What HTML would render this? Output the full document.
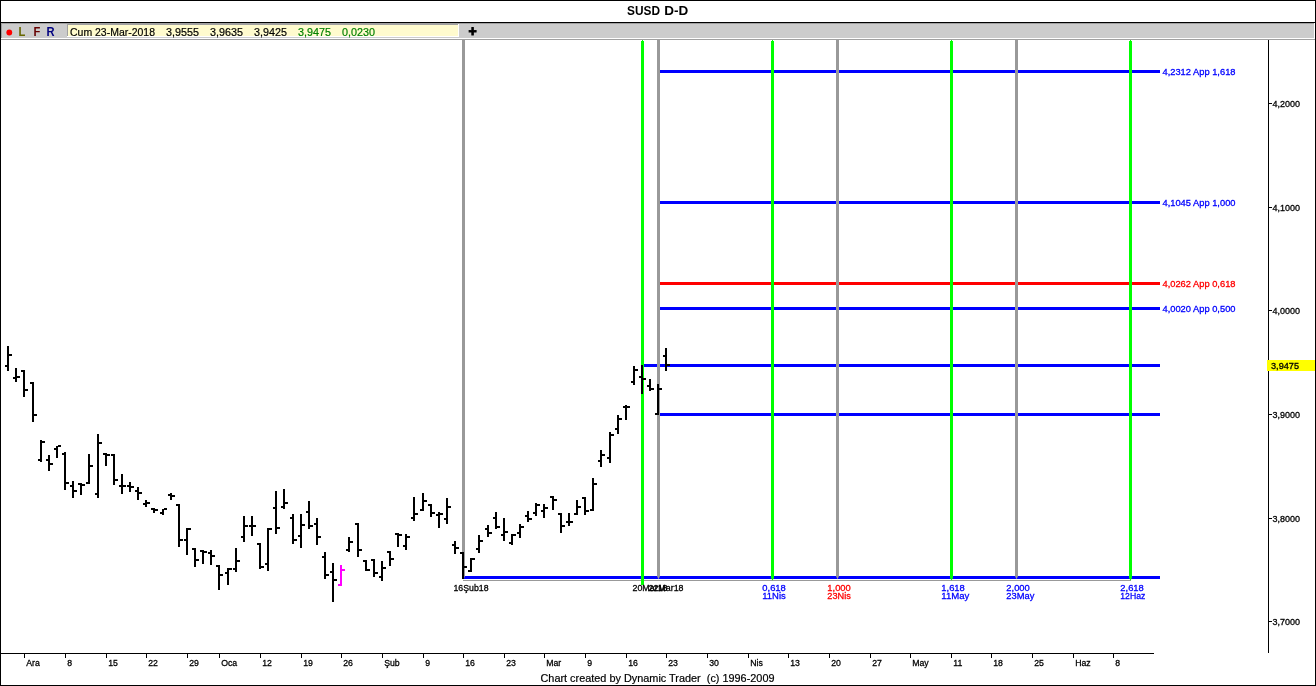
<!DOCTYPE html>
<html><head><meta charset="utf-8"><title>SUSD D-D</title>
<style>
html,body{margin:0;padding:0;background:#fff;overflow:hidden}
svg{display:block}
text{font-family:"Liberation Sans",sans-serif}
.s{font-size:9.7px;stroke-width:0.3px}
.m{font-size:11.5px;stroke-width:0.2px}
.t{font-size:13px;font-weight:bold}
.b{font-size:13px;font-weight:bold}
</style></head><body>
<svg width="1316" height="686" viewBox="0 0 1316 686" shape-rendering="crispEdges">
<g><rect x="0" y="0" width="1316" height="686" fill="#fff"/><rect x="0" y="0" width="1316" height="1" fill="#000"/><rect x="0" y="0" width="1" height="686" fill="#000"/><rect x="1315" y="0" width="1" height="686" fill="#000"/><rect x="0" y="685" width="1316" height="1" fill="#000"/><rect x="1" y="22" width="1314" height="1" fill="#000"/><rect x="1" y="23" width="1314" height="15" fill="#cccccc"/><rect x="1" y="23" width="1313" height="1" fill="#a0a0a0"/><rect x="1" y="23" width="1" height="15" fill="#a0a0a0"/><rect x="1" y="38" width="1314" height="1" fill="#fff"/><rect x="1314" y="23" width="1" height="16" fill="#fff"/><rect x="1" y="39" width="1314" height="1" fill="#a0a0a0"/><rect x="67" y="24" width="392" height="13" fill="#fff"/><rect x="67" y="24" width="391" height="12" fill="#a0a0a0"/><rect x="68" y="25" width="390" height="11" fill="#fffbce"/><circle cx="9.3" cy="32.5" r="2.9" fill="#ff0000" shape-rendering="auto"/></g>
<g><rect x="660" y="70" width="500" height="3" fill="#0000ff"/><rect x="660" y="201" width="500" height="3" fill="#0000ff"/><rect x="660" y="282" width="500" height="3" fill="#ff0000"/><rect x="660" y="307" width="500" height="3" fill="#0000ff"/><rect x="642" y="364" width="518" height="3" fill="#0000ff"/><rect x="660" y="413" width="500" height="3" fill="#0000ff"/><rect x="463" y="576" width="697" height="3" fill="#0000ff"/><rect x="463" y="580" width="668" height="1" fill="#999999"/></g>
<g><rect x="462" y="40" width="3" height="536" fill="#999999"/><polygon points="462,576 465,576 463.5,579.6" fill="#999999" shape-rendering="auto"/><rect x="641" y="41" width="3" height="544" fill="#00ff00"/><rect x="642" y="40" width="1" height="1" fill="#00ff00"/><rect x="657" y="40" width="3" height="536" fill="#999999"/><polygon points="657,576 660,576 658.5,579.6" fill="#999999" shape-rendering="auto"/><rect x="771" y="41" width="3" height="537" fill="#00ff00"/><polygon points="771,578 774,578 772.5,580.6" fill="#00ff00" shape-rendering="auto"/><rect x="772" y="40" width="1" height="1" fill="#00ff00"/><rect x="836" y="40" width="3" height="536" fill="#999999"/><polygon points="836,576 839,576 837.5,579.6" fill="#999999" shape-rendering="auto"/><rect x="950" y="41" width="3" height="537" fill="#00ff00"/><polygon points="950,578 953,578 951.5,580.6" fill="#00ff00" shape-rendering="auto"/><rect x="951" y="40" width="1" height="1" fill="#00ff00"/><rect x="1015" y="40" width="3" height="536" fill="#999999"/><polygon points="1015,576 1018,576 1016.5,579.6" fill="#999999" shape-rendering="auto"/><rect x="1129" y="41" width="3" height="537" fill="#00ff00"/><polygon points="1129,578 1132,578 1130.5,580.6" fill="#00ff00" shape-rendering="auto"/><rect x="1130" y="40" width="1" height="1" fill="#00ff00"/></g>
<g><rect x="7" y="346" width="2" height="25" fill="#000"/><rect x="5" y="365" width="2" height="2" fill="#000"/><rect x="9" y="354" width="3" height="2" fill="#000"/><rect x="15" y="368" width="2" height="14" fill="#000"/><rect x="13" y="377" width="2" height="2" fill="#000"/><rect x="17" y="376" width="3" height="2" fill="#000"/><rect x="23" y="370" width="2" height="27" fill="#000"/><rect x="21" y="370" width="2" height="2" fill="#000"/><rect x="25" y="389" width="3" height="2" fill="#000"/><rect x="32" y="382" width="2" height="40" fill="#000"/><rect x="30" y="382" width="2" height="2" fill="#000"/><rect x="34" y="414" width="3" height="2" fill="#000"/><rect x="40" y="440" width="2" height="22" fill="#000"/><rect x="38" y="459" width="2" height="2" fill="#000"/><rect x="42" y="441" width="3" height="2" fill="#000"/><rect x="48" y="455" width="2" height="16" fill="#000"/><rect x="46" y="459" width="2" height="2" fill="#000"/><rect x="50" y="463" width="3" height="2" fill="#000"/><rect x="56" y="446" width="2" height="12" fill="#000"/><rect x="54" y="448" width="2" height="2" fill="#000"/><rect x="58" y="445" width="3" height="2" fill="#000"/><rect x="64" y="452" width="2" height="38" fill="#000"/><rect x="62" y="453" width="2" height="2" fill="#000"/><rect x="66" y="482" width="3" height="2" fill="#000"/><rect x="72" y="481" width="2" height="17" fill="#000"/><rect x="70" y="485" width="2" height="2" fill="#000"/><rect x="74" y="490" width="3" height="2" fill="#000"/><rect x="80" y="483" width="2" height="12" fill="#000"/><rect x="78" y="483" width="2" height="2" fill="#000"/><rect x="82" y="484" width="3" height="2" fill="#000"/><rect x="88" y="454" width="2" height="30" fill="#000"/><rect x="86" y="482" width="2" height="2" fill="#000"/><rect x="90" y="465" width="3" height="2" fill="#000"/><rect x="97" y="434" width="2" height="64" fill="#000"/><rect x="95" y="493" width="2" height="2" fill="#000"/><rect x="99" y="442" width="3" height="2" fill="#000"/><rect x="105" y="453" width="2" height="13" fill="#000"/><rect x="103" y="453" width="2" height="2" fill="#000"/><rect x="107" y="454" width="3" height="2" fill="#000"/><rect x="113" y="454" width="2" height="31" fill="#000"/><rect x="111" y="454" width="2" height="2" fill="#000"/><rect x="115" y="479" width="3" height="2" fill="#000"/><rect x="121" y="474" width="2" height="20" fill="#000"/><rect x="119" y="485" width="2" height="2" fill="#000"/><rect x="123" y="485" width="3" height="2" fill="#000"/><rect x="129" y="482" width="2" height="10" fill="#000"/><rect x="127" y="485" width="2" height="2" fill="#000"/><rect x="131" y="486" width="3" height="2" fill="#000"/><rect x="137" y="487" width="2" height="13" fill="#000"/><rect x="135" y="490" width="2" height="2" fill="#000"/><rect x="139" y="492" width="3" height="2" fill="#000"/><rect x="145" y="500" width="2" height="7" fill="#000"/><rect x="143" y="503" width="2" height="2" fill="#000"/><rect x="147" y="502" width="3" height="2" fill="#000"/><rect x="153" y="508" width="2" height="5" fill="#000"/><rect x="151" y="508" width="2" height="2" fill="#000"/><rect x="155" y="509" width="3" height="2" fill="#000"/><rect x="162" y="509" width="2" height="6" fill="#000"/><rect x="160" y="512" width="2" height="2" fill="#000"/><rect x="164" y="508" width="3" height="2" fill="#000"/><rect x="170" y="493" width="2" height="7" fill="#000"/><rect x="168" y="494" width="2" height="2" fill="#000"/><rect x="172" y="495" width="3" height="2" fill="#000"/><rect x="178" y="504" width="2" height="43" fill="#000"/><rect x="176" y="504" width="2" height="2" fill="#000"/><rect x="180" y="539" width="3" height="2" fill="#000"/><rect x="186" y="528" width="2" height="27" fill="#000"/><rect x="184" y="539" width="2" height="2" fill="#000"/><rect x="188" y="528" width="3" height="2" fill="#000"/><rect x="194" y="548" width="2" height="19" fill="#000"/><rect x="192" y="548" width="2" height="2" fill="#000"/><rect x="196" y="559" width="3" height="2" fill="#000"/><rect x="202" y="550" width="2" height="14" fill="#000"/><rect x="200" y="550" width="2" height="2" fill="#000"/><rect x="204" y="551" width="3" height="2" fill="#000"/><rect x="210" y="550" width="2" height="15" fill="#000"/><rect x="208" y="552" width="2" height="2" fill="#000"/><rect x="212" y="555" width="3" height="2" fill="#000"/><rect x="218" y="565" width="2" height="25" fill="#000"/><rect x="216" y="565" width="2" height="2" fill="#000"/><rect x="220" y="574" width="3" height="2" fill="#000"/><rect x="227" y="568" width="2" height="17" fill="#000"/><rect x="225" y="572" width="2" height="2" fill="#000"/><rect x="229" y="568" width="3" height="2" fill="#000"/><rect x="235" y="548" width="2" height="24" fill="#000"/><rect x="233" y="568" width="2" height="2" fill="#000"/><rect x="237" y="560" width="3" height="2" fill="#000"/><rect x="243" y="516" width="2" height="26" fill="#000"/><rect x="241" y="536" width="2" height="2" fill="#000"/><rect x="245" y="525" width="3" height="2" fill="#000"/><rect x="251" y="516" width="2" height="20" fill="#000"/><rect x="249" y="525" width="2" height="2" fill="#000"/><rect x="253" y="525" width="3" height="2" fill="#000"/><rect x="259" y="543" width="2" height="26" fill="#000"/><rect x="257" y="543" width="2" height="2" fill="#000"/><rect x="261" y="566" width="3" height="2" fill="#000"/><rect x="267" y="528" width="2" height="43" fill="#000"/><rect x="265" y="563" width="2" height="2" fill="#000"/><rect x="269" y="528" width="3" height="2" fill="#000"/><rect x="275" y="491" width="2" height="43" fill="#000"/><rect x="273" y="507" width="2" height="2" fill="#000"/><rect x="277" y="527" width="3" height="2" fill="#000"/><rect x="283" y="489" width="2" height="20" fill="#000"/><rect x="281" y="506" width="2" height="2" fill="#000"/><rect x="285" y="502" width="3" height="2" fill="#000"/><rect x="292" y="514" width="2" height="30" fill="#000"/><rect x="290" y="517" width="2" height="2" fill="#000"/><rect x="294" y="539" width="3" height="2" fill="#000"/><rect x="300" y="514" width="2" height="34" fill="#000"/><rect x="298" y="535" width="2" height="2" fill="#000"/><rect x="302" y="524" width="3" height="2" fill="#000"/><rect x="308" y="501" width="2" height="28" fill="#000"/><rect x="306" y="511" width="2" height="2" fill="#000"/><rect x="310" y="525" width="3" height="2" fill="#000"/><rect x="316" y="518" width="2" height="27" fill="#000"/><rect x="314" y="523" width="2" height="2" fill="#000"/><rect x="318" y="536" width="3" height="2" fill="#000"/><rect x="324" y="552" width="2" height="27" fill="#000"/><rect x="322" y="556" width="2" height="2" fill="#000"/><rect x="326" y="574" width="3" height="2" fill="#000"/><rect x="332" y="563" width="2" height="39" fill="#000"/><rect x="330" y="571" width="2" height="2" fill="#000"/><rect x="334" y="579" width="3" height="2" fill="#000"/><rect x="340" y="565" width="2" height="21" fill="#ff00ff"/><rect x="338" y="584" width="2" height="2" fill="#ff00ff"/><rect x="342" y="569" width="3" height="2" fill="#ff00ff"/><rect x="348" y="537" width="2" height="15" fill="#000"/><rect x="346" y="549" width="2" height="2" fill="#000"/><rect x="350" y="541" width="3" height="2" fill="#000"/><rect x="357" y="523" width="2" height="34" fill="#000"/><rect x="355" y="523" width="2" height="2" fill="#000"/><rect x="359" y="549" width="3" height="2" fill="#000"/><rect x="365" y="560" width="2" height="11" fill="#000"/><rect x="363" y="560" width="2" height="2" fill="#000"/><rect x="367" y="569" width="3" height="2" fill="#000"/><rect x="373" y="559" width="2" height="18" fill="#000"/><rect x="371" y="559" width="2" height="2" fill="#000"/><rect x="375" y="572" width="3" height="2" fill="#000"/><rect x="381" y="561" width="2" height="20" fill="#000"/><rect x="379" y="576" width="2" height="2" fill="#000"/><rect x="383" y="567" width="3" height="2" fill="#000"/><rect x="389" y="551" width="2" height="15" fill="#000"/><rect x="387" y="551" width="2" height="2" fill="#000"/><rect x="391" y="558" width="3" height="2" fill="#000"/><rect x="397" y="533" width="2" height="14" fill="#000"/><rect x="395" y="533" width="2" height="2" fill="#000"/><rect x="399" y="534" width="3" height="2" fill="#000"/><rect x="405" y="534" width="2" height="16" fill="#000"/><rect x="403" y="545" width="2" height="2" fill="#000"/><rect x="407" y="536" width="3" height="2" fill="#000"/><rect x="413" y="497" width="2" height="24" fill="#000"/><rect x="411" y="517" width="2" height="2" fill="#000"/><rect x="415" y="513" width="3" height="2" fill="#000"/><rect x="422" y="493" width="2" height="18" fill="#000"/><rect x="420" y="509" width="2" height="2" fill="#000"/><rect x="424" y="500" width="3" height="2" fill="#000"/><rect x="430" y="504" width="2" height="13" fill="#000"/><rect x="428" y="504" width="2" height="2" fill="#000"/><rect x="432" y="512" width="3" height="2" fill="#000"/><rect x="438" y="512" width="2" height="16" fill="#000"/><rect x="436" y="514" width="2" height="2" fill="#000"/><rect x="440" y="513" width="3" height="2" fill="#000"/><rect x="446" y="498" width="2" height="26" fill="#000"/><rect x="444" y="518" width="2" height="2" fill="#000"/><rect x="448" y="506" width="3" height="2" fill="#000"/><rect x="454" y="541" width="2" height="13" fill="#000"/><rect x="452" y="544" width="2" height="2" fill="#000"/><rect x="456" y="547" width="3" height="2" fill="#000"/><rect x="462" y="552" width="2" height="27" fill="#000"/><rect x="460" y="552" width="2" height="2" fill="#000"/><rect x="464" y="566" width="3" height="2" fill="#000"/><rect x="470" y="558" width="2" height="14" fill="#000"/><rect x="468" y="570" width="2" height="2" fill="#000"/><rect x="472" y="558" width="3" height="2" fill="#000"/><rect x="478" y="535" width="2" height="18" fill="#000"/><rect x="476" y="548" width="2" height="2" fill="#000"/><rect x="480" y="540" width="3" height="2" fill="#000"/><rect x="487" y="525" width="2" height="12" fill="#000"/><rect x="485" y="528" width="2" height="2" fill="#000"/><rect x="489" y="532" width="3" height="2" fill="#000"/><rect x="495" y="512" width="2" height="17" fill="#000"/><rect x="493" y="517" width="2" height="2" fill="#000"/><rect x="497" y="526" width="3" height="2" fill="#000"/><rect x="503" y="518" width="2" height="23" fill="#000"/><rect x="501" y="534" width="2" height="2" fill="#000"/><rect x="505" y="531" width="3" height="2" fill="#000"/><rect x="511" y="534" width="2" height="11" fill="#000"/><rect x="509" y="542" width="2" height="2" fill="#000"/><rect x="513" y="534" width="3" height="2" fill="#000"/><rect x="519" y="524" width="2" height="14" fill="#000"/><rect x="517" y="532" width="2" height="2" fill="#000"/><rect x="521" y="526" width="3" height="2" fill="#000"/><rect x="527" y="511" width="2" height="11" fill="#000"/><rect x="525" y="515" width="2" height="2" fill="#000"/><rect x="529" y="518" width="3" height="2" fill="#000"/><rect x="535" y="503" width="2" height="13" fill="#000"/><rect x="533" y="512" width="2" height="2" fill="#000"/><rect x="537" y="504" width="3" height="2" fill="#000"/><rect x="543" y="504" width="2" height="14" fill="#000"/><rect x="541" y="510" width="2" height="2" fill="#000"/><rect x="545" y="507" width="3" height="2" fill="#000"/><rect x="552" y="496" width="2" height="14" fill="#000"/><rect x="550" y="496" width="2" height="2" fill="#000"/><rect x="554" y="499" width="3" height="2" fill="#000"/><rect x="560" y="513" width="2" height="20" fill="#000"/><rect x="558" y="513" width="2" height="2" fill="#000"/><rect x="562" y="525" width="3" height="2" fill="#000"/><rect x="568" y="513" width="2" height="13" fill="#000"/><rect x="566" y="521" width="2" height="2" fill="#000"/><rect x="570" y="521" width="3" height="2" fill="#000"/><rect x="576" y="500" width="2" height="15" fill="#000"/><rect x="574" y="513" width="2" height="2" fill="#000"/><rect x="578" y="506" width="3" height="2" fill="#000"/><rect x="584" y="497" width="2" height="18" fill="#000"/><rect x="582" y="497" width="2" height="2" fill="#000"/><rect x="586" y="510" width="3" height="2" fill="#000"/><rect x="592" y="478" width="2" height="33" fill="#000"/><rect x="590" y="509" width="2" height="2" fill="#000"/><rect x="594" y="483" width="3" height="2" fill="#000"/><rect x="600" y="450" width="2" height="17" fill="#000"/><rect x="598" y="460" width="2" height="2" fill="#000"/><rect x="602" y="454" width="3" height="2" fill="#000"/><rect x="609" y="432" width="2" height="31" fill="#000"/><rect x="607" y="457" width="2" height="2" fill="#000"/><rect x="611" y="434" width="3" height="2" fill="#000"/><rect x="617" y="415" width="2" height="19" fill="#000"/><rect x="615" y="428" width="2" height="2" fill="#000"/><rect x="619" y="418" width="3" height="2" fill="#000"/><rect x="625" y="405" width="2" height="15" fill="#000"/><rect x="623" y="406" width="2" height="2" fill="#000"/><rect x="627" y="406" width="3" height="2" fill="#000"/><rect x="633" y="366" width="2" height="19" fill="#000"/><rect x="631" y="381" width="2" height="2" fill="#000"/><rect x="635" y="369" width="3" height="2" fill="#000"/><rect x="641" y="365" width="2" height="29" fill="#000"/><rect x="639" y="376" width="2" height="2" fill="#000"/><rect x="643" y="378" width="3" height="2" fill="#000"/><rect x="649" y="379" width="2" height="12" fill="#000"/><rect x="647" y="385" width="2" height="2" fill="#000"/><rect x="651" y="388" width="3" height="2" fill="#000"/><rect x="657" y="384" width="2" height="31" fill="#000"/><rect x="655" y="413" width="2" height="2" fill="#000"/><rect x="659" y="388" width="3" height="2" fill="#000"/><rect x="665" y="348" width="2" height="23" fill="#000"/><rect x="663" y="355" width="2" height="2" fill="#000"/><rect x="667" y="364" width="3" height="2" fill="#000"/></g>
<g><rect x="1" y="653" width="1153" height="1" fill="#000"/><rect x="24" y="653" width="1" height="5" fill="#000"/><rect x="65" y="653" width="1" height="5" fill="#000"/><rect x="106" y="653" width="1" height="5" fill="#000"/><rect x="146" y="653" width="1" height="5" fill="#000"/><rect x="187" y="653" width="1" height="5" fill="#000"/><rect x="219" y="653" width="1" height="5" fill="#000"/><rect x="260" y="653" width="1" height="5" fill="#000"/><rect x="301" y="653" width="1" height="5" fill="#000"/><rect x="341" y="653" width="1" height="5" fill="#000"/><rect x="382" y="653" width="1" height="5" fill="#000"/><rect x="423" y="653" width="1" height="5" fill="#000"/><rect x="463" y="653" width="1" height="5" fill="#000"/><rect x="504" y="653" width="1" height="5" fill="#000"/><rect x="544" y="653" width="1" height="5" fill="#000"/><rect x="585" y="653" width="1" height="5" fill="#000"/><rect x="626" y="653" width="1" height="5" fill="#000"/><rect x="666" y="653" width="1" height="5" fill="#000"/><rect x="707" y="653" width="1" height="5" fill="#000"/><rect x="748" y="653" width="1" height="5" fill="#000"/><rect x="788" y="653" width="1" height="5" fill="#000"/><rect x="829" y="653" width="1" height="5" fill="#000"/><rect x="870" y="653" width="1" height="5" fill="#000"/><rect x="910" y="653" width="1" height="5" fill="#000"/><rect x="951" y="653" width="1" height="5" fill="#000"/><rect x="991" y="653" width="1" height="5" fill="#000"/><rect x="1032" y="653" width="1" height="5" fill="#000"/><rect x="1073" y="653" width="1" height="5" fill="#000"/><rect x="1113" y="653" width="1" height="5" fill="#000"/><rect x="1268" y="40" width="1" height="613" fill="#000"/><rect x="1269" y="103" width="3" height="1" fill="#000"/><rect x="1269" y="207" width="3" height="1" fill="#000"/><rect x="1269" y="310" width="3" height="1" fill="#000"/><rect x="1269" y="414" width="3" height="1" fill="#000"/><rect x="1269" y="518" width="3" height="1" fill="#000"/><rect x="1269" y="621" width="3" height="1" fill="#000"/><rect x="1267" y="360" width="48" height="11" fill="#ffff00"/></g>
<g><text stroke="#000" transform="translate(26.2,666) scale(.9,1)" class="s">Ara</text><text stroke="#000" transform="translate(67.2,666) scale(.9,1)" class="s">8</text><text stroke="#000" transform="translate(108.2,666) scale(.9,1)" class="s">15</text><text stroke="#000" transform="translate(148.2,666) scale(.9,1)" class="s">22</text><text stroke="#000" transform="translate(189.2,666) scale(.9,1)" class="s">29</text><text stroke="#000" transform="translate(221.2,666) scale(.9,1)" class="s">Oca</text><text stroke="#000" transform="translate(262.2,666) scale(.9,1)" class="s">12</text><text stroke="#000" transform="translate(303.2,666) scale(.9,1)" class="s">19</text><text stroke="#000" transform="translate(343.2,666) scale(.9,1)" class="s">26</text><text stroke="#000" transform="translate(384.2,666) scale(.9,1)" class="s">Şub</text><text stroke="#000" transform="translate(425.2,666) scale(.9,1)" class="s">9</text><text stroke="#000" transform="translate(465.2,666) scale(.9,1)" class="s">16</text><text stroke="#000" transform="translate(506.2,666) scale(.9,1)" class="s">23</text><text stroke="#000" transform="translate(546.2,666) scale(.9,1)" class="s">Mar</text><text stroke="#000" transform="translate(587.2,666) scale(.9,1)" class="s">9</text><text stroke="#000" transform="translate(628.2,666) scale(.9,1)" class="s">16</text><text stroke="#000" transform="translate(668.2,666) scale(.9,1)" class="s">23</text><text stroke="#000" transform="translate(709.2,666) scale(.9,1)" class="s">30</text><text stroke="#000" transform="translate(750.2,666) scale(.9,1)" class="s">Nis</text><text stroke="#000" transform="translate(790.2,666) scale(.9,1)" class="s">13</text><text stroke="#000" transform="translate(831.2,666) scale(.9,1)" class="s">20</text><text stroke="#000" transform="translate(872.2,666) scale(.9,1)" class="s">27</text><text stroke="#000" transform="translate(912.2,666) scale(.9,1)" class="s">May</text><text stroke="#000" transform="translate(953.2,666) scale(.9,1)" class="s">11</text><text stroke="#000" transform="translate(993.2,666) scale(.9,1)" class="s">18</text><text stroke="#000" transform="translate(1034.2,666) scale(.9,1)" class="s">25</text><text stroke="#000" transform="translate(1075.2,666) scale(.9,1)" class="s">Haz</text><text stroke="#000" transform="translate(1115.2,666) scale(.9,1)" class="s">8</text><text stroke="#000" x="1272.5" y="107" class="s" textLength="27.5" lengthAdjust="spacingAndGlyphs">4,2000</text><text stroke="#000" x="1272.5" y="211" class="s" textLength="27.5" lengthAdjust="spacingAndGlyphs">4,1000</text><text stroke="#000" x="1272.5" y="314" class="s" textLength="27.5" lengthAdjust="spacingAndGlyphs">4,0000</text><text stroke="#000" x="1272.5" y="418" class="s" textLength="27.5" lengthAdjust="spacingAndGlyphs">3,9000</text><text stroke="#000" x="1272.5" y="522" class="s" textLength="27.5" lengthAdjust="spacingAndGlyphs">3,8000</text><text stroke="#000" x="1272.5" y="625" class="s" textLength="27.5" lengthAdjust="spacingAndGlyphs">3,7000</text><text stroke="#000" x="1271" y="369" class="s" textLength="28" lengthAdjust="spacingAndGlyphs">3,9475</text><text stroke="#0000ff" x="1162.5" y="75" class="s" fill="#0000ff" textLength="73" lengthAdjust="spacingAndGlyphs">4,2312 App 1,618</text><text stroke="#0000ff" x="1162.5" y="206" class="s" fill="#0000ff" textLength="73" lengthAdjust="spacingAndGlyphs">4,1045 App 1,000</text><text stroke="#ff0000" x="1162.5" y="287" class="s" fill="#ff0000" textLength="73" lengthAdjust="spacingAndGlyphs">4,0262 App 0,618</text><text stroke="#0000ff" x="1162.5" y="312" class="s" fill="#0000ff" textLength="73" lengthAdjust="spacingAndGlyphs">4,0020 App 0,500</text><text stroke="#000" x="453.5" y="591" class="s" textLength="35" lengthAdjust="spacingAndGlyphs">16Şub18</text><text stroke="#000" x="632.5" y="591" class="s" textLength="35" lengthAdjust="spacingAndGlyphs">20Mar18</text><text stroke="#000" x="648.5" y="591" class="s" textLength="35" lengthAdjust="spacingAndGlyphs">22Mar18</text><text stroke="#0000ff" x="762.3" y="590.8" class="s" fill="#0000ff" textLength="23.5" lengthAdjust="spacingAndGlyphs">0,618</text><text stroke="#0000ff" x="762.3" y="599" class="s" fill="#0000ff" textLength="23.5" lengthAdjust="spacingAndGlyphs">11Nis</text><text stroke="#ff0000" x="827.3" y="590.8" class="s" fill="#ff0000" textLength="23.5" lengthAdjust="spacingAndGlyphs">1,000</text><text stroke="#ff0000" x="827.3" y="599" class="s" fill="#ff0000" textLength="23.5" lengthAdjust="spacingAndGlyphs">23Nis</text><text stroke="#0000ff" x="941.3" y="590.8" class="s" fill="#0000ff" textLength="23.5" lengthAdjust="spacingAndGlyphs">1,618</text><text stroke="#0000ff" x="941.3" y="599" class="s" fill="#0000ff" textLength="28" lengthAdjust="spacingAndGlyphs">11May</text><text stroke="#0000ff" x="1006.3" y="590.8" class="s" fill="#0000ff" textLength="23.5" lengthAdjust="spacingAndGlyphs">2,000</text><text stroke="#0000ff" x="1006.3" y="599" class="s" fill="#0000ff" textLength="28" lengthAdjust="spacingAndGlyphs">23May</text><text stroke="#0000ff" x="1120.3" y="590.8" class="s" fill="#0000ff" textLength="23.5" lengthAdjust="spacingAndGlyphs">2,618</text><text stroke="#0000ff" x="1120.3" y="599" class="s" fill="#0000ff" textLength="25" lengthAdjust="spacingAndGlyphs">12Haz</text></g>
<g><text x="627" y="15" class="t" textLength="33" lengthAdjust="spacingAndGlyphs">SUSD</text><text x="664.3" y="15" class="t" textLength="24" lengthAdjust="spacingAndGlyphs">D-D</text><text transform="translate(18.4,36) scale(.86,1)" class="b" fill="#666600">L</text><text transform="translate(33.4,36) scale(.86,1)" class="b" fill="#660000">F</text><text transform="translate(46.4,36) scale(.86,1)" class="b" fill="#000080">R</text><text x="472.5" y="36.2" text-anchor="middle" style="font-size:14px;font-weight:bold" stroke="#000" stroke-width="0.9" stroke-linejoin="miter">+</text><text stroke="#000" x="70" y="36" class="m" textLength="85" lengthAdjust="spacingAndGlyphs">Cum 23-Mar-2018</text><text stroke="#000" x="166" y="36" class="m" fill="#000" textLength="33" lengthAdjust="spacingAndGlyphs">3,9555</text><text stroke="#000" x="210" y="36" class="m" fill="#000" textLength="33" lengthAdjust="spacingAndGlyphs">3,9635</text><text stroke="#000" x="254" y="36" class="m" fill="#000" textLength="33" lengthAdjust="spacingAndGlyphs">3,9425</text><text stroke="#008000" x="298" y="36" class="m" fill="#008000" textLength="33" lengthAdjust="spacingAndGlyphs">3,9475</text><text stroke="#008000" x="342" y="36" class="m" fill="#008000" textLength="33" lengthAdjust="spacingAndGlyphs">0,0230</text><text stroke="#000" x="540.5" y="682" class="m" textLength="234" lengthAdjust="spacingAndGlyphs" style="white-space:pre">Chart created by Dynamic Trader  (c) 1996-2009</text></g>
</svg>
</body></html>
